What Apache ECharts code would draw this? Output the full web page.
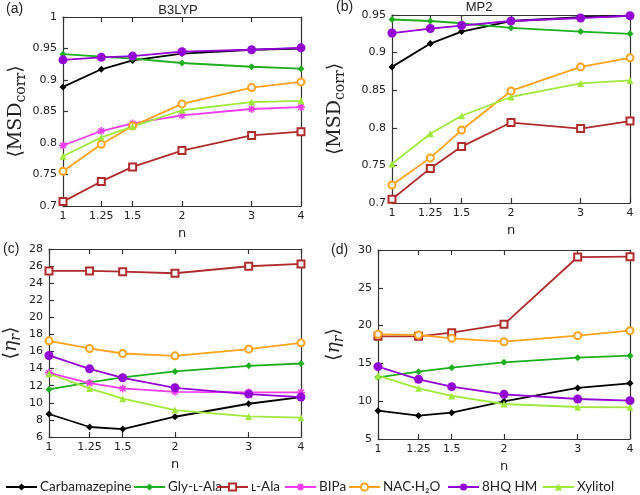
<!DOCTYPE html>
<html>
<head>
<meta charset="utf-8">
<script src="https://cdn.jsdelivr.net/npm/echarts@6/dist/echarts.min.js"></script>
<style>html,body{margin:0;padding:0;background:#fff}#c{width:640px;height:495px}</style>
</head>
<body>
<div id="c"></div>
<script>
// ---- data ----
const nValues = [1, 1.25, 1.5, 2, 3, 4];
const xTickLabels = ['1', '1.25', '1.5', '2', '3', '4'];
const seriesNames = ['Carbamazepine', 'Gly-ʟ-Ala', 'ʟ-Ala', 'BIPa', 'NAC·H₂O', '8HQ HM', 'Xylitol'];
const panelTitles = ['B3LYP', 'MP2', '', ''];
const panelLabels = ['(a)', '(b)', '(c)', '(d)'];

// (a) B3LYP <MSD_corr>
const aCarbamazepine = [0.889, 0.917, 0.931, 0.942, 0.948, 0.950];
const aGlyAla = [0.941, 0.937, 0.934, 0.927, 0.921, 0.918];
const aLAla = [0.707, 0.739, 0.762, 0.788, 0.812, 0.818];
const aBIPa = [0.796, 0.819, 0.831, 0.844, 0.854, 0.857];
const aNAC = [0.755, 0.798, 0.827, 0.862, 0.888, 0.897];
const a8HQ = [0.932, 0.936, 0.938, 0.945, 0.948, 0.951];
const aXylitol = [0.779, 0.809, 0.826, 0.852, 0.865, 0.867];

// (b) MP2 <MSD_corr>
const bCarbamazepine = [0.881, 0.912, 0.928, 0.942, 0.947, 0.949];
const bGlyAla = [0.944, 0.942, 0.939, 0.933, 0.928, 0.925];
const bLAla = [0.705, 0.746, 0.775, 0.807, 0.799, 0.809];
const bNAC = [0.724, 0.760, 0.797, 0.849, 0.881, 0.893];
const b8HQ = [0.926, 0.932, 0.936, 0.942, 0.946, 0.949];
const bXylitol = [0.752, 0.792, 0.816, 0.841, 0.859, 0.863];

// (c) B3LYP <eta_r>
const cCarbamazepine = [8.69, 7.17, 6.93, 8.37, 9.89, 10.67];
const cGlyAla = [11.57, 12.38, 12.97, 13.67, 14.33, 14.60];
const cLAla = [25.43, 25.43, 25.35, 25.16, 25.98, 26.25];
const cBIPa = [13.51, 12.31, 11.68, 11.29, 11.22, 11.22];
const cNAC = [17.25, 16.36, 15.77, 15.50, 16.28, 17.02];
const c8HQ = [15.54, 13.98, 12.93, 11.76, 11.02, 10.67];
const cXylitol = [13.40, 11.68, 10.48, 9.15, 8.41, 8.26];

// (d) MP2 <eta_r>
const dCarbamazepine = [8.75, 8.09, 8.48, 9.98, 11.75, 12.36];
const dGlyAla = [13.16, 13.91, 14.44, 15.14, 15.76, 16.02];
const dLAla = [18.58, 18.58, 19.07, 20.17, 29.07, 29.12];
const dNAC = [18.84, 18.76, 18.32, 17.87, 18.67, 19.33];
const d8HQ = [14.57, 12.89, 11.92, 10.91, 10.29, 10.07];
const dXylitol = [13.38, 11.70, 10.69, 9.63, 9.23, 9.19];

const yTicksA = { min: 0.7, max: 1.0, interval: 0.05 };
const yTicksB = { min: 0.7, max: 0.95, interval: 0.05 };
const yTicksC = { min: 6, max: 28, interval: 2 };
const yTicksD = { min: 5, max: 30, interval: 5 };

// ---- styles ----
const colors = {
  'Carbamazepine': '#000000',
  'Gly-ʟ-Ala': '#1fae1f',
  'ʟ-Ala': '#b02c2c',
  'BIPa': '#f23cf2',
  'NAC·H₂O': '#ffa21c',
  '8HQ HM': '#9300d6',
  'Xylitol': '#9fe83c'
};
const asterisk = 'path://M0 5L10 5M5 0L5 10M1.5 1.5L8.5 8.5M8.5 1.5L1.5 8.5';
const symbols = {
  'Carbamazepine': ['diamond', 7],
  'Gly-ʟ-Ala': ['diamond', 7],
  'ʟ-Ala': ['emptyRect', 7],
  'BIPa': [asterisk, 8],
  'NAC·H₂O': ['emptyCircle', 7],
  '8HQ HM': ['circle', 9],
  'Xylitol': ['triangle', 7]
};

const panels = [
  { grid: { left: 63, top: 17, width: 238, height: 189 }, y: yTicksA, nameGap: 35, yname: 'msd',
    data: [aCarbamazepine, aGlyAla, aLAla, aBIPa, aNAC, a8HQ, aXylitol] },
  { grid: { left: 392, top: 15, width: 238, height: 188 }, y: yTicksB, nameGap: 45, yname: 'msd',
    data: [bCarbamazepine, bGlyAla, bLAla, null, bNAC, b8HQ, bXylitol] },
  { grid: { left: 49, top: 249, width: 252, height: 188 }, y: yTicksC, nameGap: 26, yname: 'eta',
    data: [cCarbamazepine, cGlyAla, cLAla, cBIPa, cNAC, c8HQ, cXylitol] },
  { grid: { left: 378, top: 250, width: 252, height: 189 }, y: yTicksD, nameGap: 32, yname: 'eta',
    data: [dCarbamazepine, dGlyAla, dLAla, null, dNAC, d8HQ, dXylitol] }
];

const axisColor = '#333';
const labelFont = 'DejaVu Sans';
const richName = {
  a: { fontFamily: 'DejaVu Serif', fontSize: 19, color: '#222' },
  s: { fontFamily: 'DejaVu Serif', fontSize: 14, color: '#222', padding: [9, 0, 0, 0] },
  i: { fontFamily: 'DejaVu Serif', fontStyle: 'italic', fontSize: 19, color: '#222' },
  si: { fontFamily: 'DejaVu Serif', fontStyle: 'italic', fontSize: 14, color: '#222', padding: [9, 0, 0, 0] }
};
const yNames = {
  msd: '{a|⟨MSD}{s|corr}{a|⟩}',
  eta: '{a|⟨}{i|η}{si|r}{a|⟩}'
};

function fmtX(v) {
  const k = nValues.findIndex(n => Math.abs(n - v) < 1e-6);
  return k >= 0 ? xTickLabels[k] : '';
}

const grids = [], xAxes = [], yAxes = [], series = [];
panels.forEach((p, i) => {
  grids.push(p.grid);
  xAxes.push({
    gridIndex: i, type: 'log', logBase: 10, min: 1, max: 4, position: 'bottom',
    name: 'n', nameLocation: 'middle', nameGap: 21,
    nameTextStyle: { fontFamily: labelFont, fontSize: 13, color: '#222' },
    axisLine: { show: true, lineStyle: { color: axisColor, width: 1.2 } },
    axisTick: { show: true, inside: true, length: 5, customValues: nValues, lineStyle: { color: axisColor, width: 1.2 } },
    axisLabel: { show: true, customValues: nValues, formatter: fmtX, margin: 5,
      fontFamily: labelFont, fontSize: 11, color: '#222' },
    splitLine: { show: false }, minorTick: { show: false }
  });
  xAxes.push({
    gridIndex: i, type: 'log', logBase: 10, min: 1, max: 4, position: 'top',
    axisLine: { show: true, lineStyle: { color: axisColor, width: 1.2 } },
    axisTick: { show: true, inside: true, length: 5, customValues: nValues, lineStyle: { color: axisColor, width: 1.2 } },
    axisLabel: { show: false, customValues: nValues },
    splitLine: { show: false }
  });
  yAxes.push({
    gridIndex: i, type: 'value', position: 'left',
    min: p.y.min, max: p.y.max, interval: p.y.interval,
    name: yNames[p.yname], nameLocation: 'middle', nameRotate: 90, nameGap: p.nameGap,
    nameTextStyle: { rich: richName },
    axisLine: { show: true, lineStyle: { color: axisColor, width: 1.2 } },
    axisTick: { show: true, inside: true, length: 5, lineStyle: { color: axisColor, width: 1.2 } },
    axisLabel: { margin: 6, fontFamily: labelFont, fontSize: 11, color: '#222' },
    splitLine: { show: false }
  });
  yAxes.push({
    gridIndex: i, type: 'value', position: 'right',
    min: p.y.min, max: p.y.max, interval: p.y.interval,
    axisLine: { show: true, lineStyle: { color: axisColor, width: 1.2 } },
    axisTick: { show: false }, axisLabel: { show: false }, splitLine: { show: false }
  });
  p.data.forEach((vals, s) => {
    if (!vals) return;
    const name = seriesNames[s];
    series.push({
      type: 'line', name: name,
      xAxisIndex: 2 * i, yAxisIndex: 2 * i,
      data: nValues.map((n, k) => [n, vals[k]]),
      symbol: symbols[name][0], symbolSize: symbols[name][1],
      showAllSymbol: true,
      lineStyle: { color: colors[name], width: 1.8 },
      itemStyle: { color: colors[name], borderColor: colors[name], borderWidth: name === 'BIPa' ? 1.5 : (name.indexOf('ʟ-Ala') === 0 || name === 'NAC·H₂O' ? 1.4 : 0) },
      emphasis: { disabled: true },
      animation: false, z: 3
    });
  });
});

// legends: one per item so each sits where the reference puts it
const legendLefts = [0, 128, 211, 279, 343, 442, 537];
const legends = seriesNames.map((name, k) => ({
  data: [name], left: legendLefts[k], top: 475,
  itemWidth: 31, itemHeight: 9, itemGap: 4,
  textStyle: { fontFamily: 'Liberation Sans Narrow, Lato, sans-serif', fontSize: 13.5, color: '#222', padding: [0, 0, 0, -2] },
  selectedMode: false
}));

const graphics = [];
const titlePos = [[178, 4], [479, 1]];
panelTitles.forEach((t, i) => {
  if (!t) return;
  graphics.push({ type: 'text', x: titlePos[i][0], y: titlePos[i][1],
    style: { text: t, fontFamily: 'Liberation Sans', fontSize: 13, fill: '#222', textAlign: 'center' } });
});
const labelPos = [[6, 2], [336, 0], [3, 242], [331, 243]];
panelLabels.forEach((t, i) => {
  graphics.push({ type: 'text', x: labelPos[i][0], y: labelPos[i][1],
    style: { text: t, fontFamily: 'Liberation Sans', fontSize: 14, fill: '#222' } });
});

const chart = echarts.init(document.getElementById('c'), null, { renderer: 'canvas' });
chart.setOption({
  backgroundColor: '#fff',
  animation: false,
  grid: grids,
  xAxis: xAxes,
  yAxis: yAxes,
  series: series,
  legend: legends,
  graphic: graphics
});
</script>
</body>
</html>
